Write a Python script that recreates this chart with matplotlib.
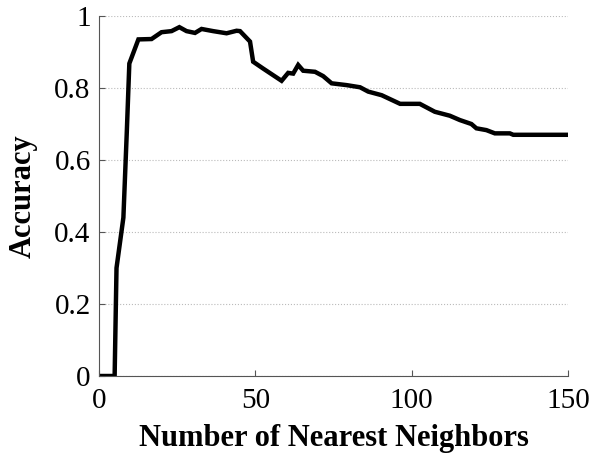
import matplotlib
matplotlib.use("Agg")
import matplotlib.pyplot as plt

# accuracy vs. k for the kNN classifier
k = [1, 5, 5.6, 7.8, 8.9, 9.7, 12.6, 16.8, 20, 23.2, 25.7, 28, 30.7, 32.8,
     36.5, 40.8, 44, 45.1, 48.3, 49.3, 52.5, 58.4, 60.5, 62.1, 63.7, 65.3,
     69.1, 71.7, 74.4, 79.2, 83.5, 86.1, 90.4, 96.3, 102.6, 107.4, 112.2,
     115.4, 119.1, 120.7, 123.9, 126.6, 131.4, 132.5, 150]
accuracy = [0, 0, 0.30, 0.44, 0.68, 0.868, 0.935, 0.936, 0.955, 0.958, 0.969,
            0.958, 0.953, 0.964, 0.958, 0.952, 0.959, 0.958, 0.929, 0.873,
            0.854, 0.82, 0.842, 0.84, 0.864, 0.848, 0.845, 0.833, 0.813,
            0.808, 0.802, 0.79, 0.78, 0.756, 0.756, 0.734, 0.723, 0.711,
            0.70, 0.688, 0.683, 0.674, 0.674, 0.67, 0.67]

plt.rcParams["font.family"] = ["Liberation Serif", "DejaVu Serif"]

fig = plt.figure(figsize=(5.93, 4.54), dpi=100)
ax = fig.add_axes([99 / 593, 78 / 454, 469 / 593, 360 / 454])

ax.plot(k, accuracy, color="black", lw=3.2, solid_joinstyle="miter")

ax.set_xlim(0, 150)
ax.set_ylim(0, 1)
ax.set_xticks([0, 50, 100, 150])
ax.set_yticks([0, 0.2, 0.4, 0.6, 0.8, 1])
ax.set_yticklabels(["0", "0.2", "0.4", "0.6", "0.8", "1"])
ax.tick_params(direction="in", labelsize=21, length=4, color="#555555")
ax.tick_params(axis="x", pad=9)
ax.tick_params(axis="y", pad=6)
ax.yaxis.grid(True, linestyle=":", color="#bbbbbb", lw=0.8)
ax.set_axisbelow(True)

for s in ("top", "right"):
    ax.spines[s].set_visible(False)
for s in ("left", "bottom"):
    ax.spines[s].set_color("#555555")

ax.set_xlabel("Number of Nearest Neighbors", fontsize=22, fontweight="bold", labelpad=7)
ax.set_ylabel("Accuracy", fontsize=22, fontweight="bold", labelpad=12)

fig.savefig("out.png", dpi=100)
